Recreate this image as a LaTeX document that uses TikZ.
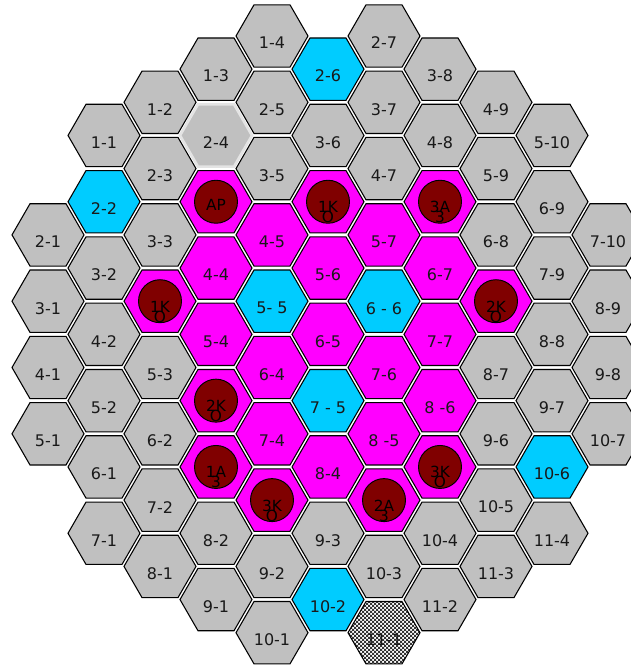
\documentclass[tikz,border=0pt]{standalone}
\usepackage{fontspec}
\setmainfont{DejaVu Sans}
\usetikzlibrary{shapes.geometric,patterns}
\definecolor{hgray}{HTML}{C0C0C0}
\definecolor{hcyan}{HTML}{00CCFF}
\definecolor{hmag}{HTML}{FF00FF}
\definecolor{hred}{HTML}{800000}
\definecolor{hlight}{HTML}{E4E4E4}
\pgfdeclarepatternformonly{finechecker}{\pgfqpoint{-0.5pt}{-0.5pt}}{\pgfqpoint{3.5pt}{3.5pt}}{\pgfqpoint{3pt}{3pt}}{%
  \pgfpathrectangle{\pgfqpoint{0pt}{0pt}}{\pgfqpoint{1.5pt}{1.5pt}}%
  \pgfpathrectangle{\pgfqpoint{1.5pt}{1.5pt}}{\pgfqpoint{1.5pt}{1.5pt}}%
  \pgfusepath{fill}}
\begin{document}
\begin{tikzpicture}[x=0.75pt,y=-0.75pt,
  hexcell/.style={regular polygon, regular polygon sides=6,
    minimum size=54pt, inner sep=0pt, draw=black, line width=0.8pt},
  g/.style={fill=hgray},
  c/.style={fill=hcyan},
  m/.style={fill=hmag},
  n/.style={fill=hgray, draw=hlight, line width=2pt},
  p/.style={pattern=finechecker, pattern color=black!80},
  lbl/.style={inner sep=0pt, font=\fontsize{12}{14}\selectfont, text=black!90},
  disc/.style={circle, fill=hred, draw=black, line width=0.7pt, minimum size=32.25pt, inner sep=0pt},
  dlbl/.style={inner sep=0pt, font=\fontsize{11.5}{13}\selectfont, text=black}]
\useasboundingbox (0,0) rectangle (631,667);
\foreach \c/\k/\s/\t in {
 0/6/g/2-1, 0/8/g/3-1, 0/10/g/4-1, 0/12/g/5-1,
 1/3/g/1-1, 1/5/c/2-2, 1/7/g/3-2, 1/9/g/4-2, 1/11/g/5-2, 1/13/g/6-1, 1/15/g/7-1,
 2/2/g/1-2, 2/4/g/2-3, 2/6/g/3-3, 2/8/m/{}, 2/10/g/5-3, 2/12/g/6-2, 2/14/g/7-2, 2/16/g/8-1,
 3/1/g/1-3, 3/3/n/2-4, 3/5/m/{}, 3/7/m/4-4, 3/9/m/5-4, 3/11/m/{}, 3/13/m/{}, 3/15/g/8-2, 3/17/g/9-1,
 4/0/g/1-4, 4/2/g/2-5, 4/4/g/3-5, 4/6/m/4-5, 4/8/c/5- 5, 4/10/m/6-4, 4/12/m/7-4, 4/14/m/{}, 4/16/g/9-2, 4/18/g/10-1,
 5/1/c/2-6, 5/3/g/3-6, 5/5/m/{}, 5/7/m/5-6, 5/9/m/6-5, 5/11/c/7 - 5, 5/13/m/8-4, 5/15/g/9-3, 5/17/c/10-2,
 6/0/g/2-7, 6/2/g/3-7, 6/4/g/4-7, 6/6/m/5-7, 6/8/c/6 - 6, 6/10/m/7-6, 6/12/m/8 -5, 6/14/m/{}, 6/16/g/10-3, 6/18/p/11-1,
 7/1/g/3-8, 7/3/g/4-8, 7/5/m/{}, 7/7/m/6-7, 7/9/m/7-7, 7/11/m/8 -6, 7/13/m/{}, 7/15/g/10-4, 7/17/g/11-2,
 8/2/g/4-9, 8/4/g/5-9, 8/6/g/6-8, 8/8/m/{}, 8/10/g/8-7, 8/12/g/9-6, 8/14/g/10-5, 8/16/g/11-3,
 9/3/g/5-10, 9/5/g/6-9, 9/7/g/7-9, 9/9/g/8-8, 9/11/g/9-7, 9/13/c/10-6, 9/15/g/11-4,
 10/6/g/7-10, 10/8/g/8-9, 10/10/g/9-8, 10/12/g/10-7}{
  \pgfmathsetmacro\x{48+56*\c}
  \pgfmathsetmacro\y{36+33.15*\k}
  \node[hexcell,\s] (h\c-\k) at (\x,\y) {};
  \node[lbl] (t\c-\k) at (\x,\y+7) {\t};
}
\foreach \c/\k/\a/\b in {
 2/8/1K/O, 5/5/1K/O, 7/5/3A/3, 8/8/2K/O, 3/11/2K/O,
 3/13/1A/3, 4/14/3K/O, 7/13/3K/O, 6/14/2A/3}{
  \node[disc] (d\c-\k) at (h\c-\k.center) {};
  \node[dlbl] (a\c-\k) at ([yshift=-4pt]d\c-\k.center) {\a};
  \node[dlbl] (b\c-\k) at ([yshift=-11.5pt]d\c-\k.center) {\b};
}
\node[disc] (d3-5) at (h3-5.center) {};
\node[dlbl] (a3-5) at ([yshift=-2.6pt]d3-5.center) {AP};
\end{tikzpicture}
\end{document}
